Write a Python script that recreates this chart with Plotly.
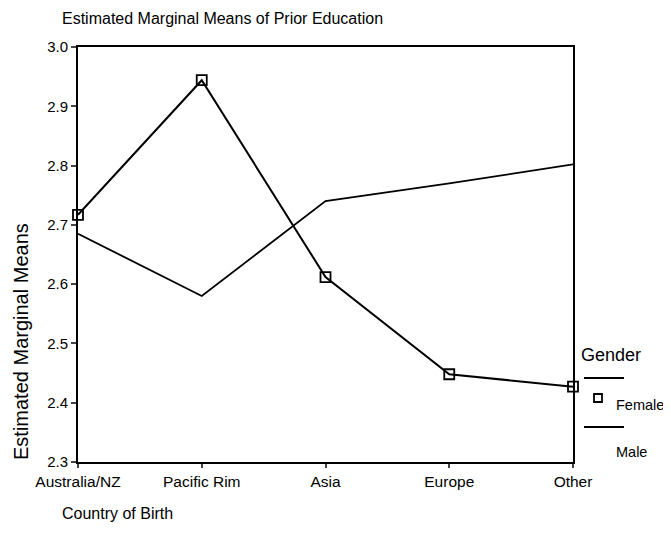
import plotly.graph_objects as go

categories = ["Australia/NZ", "Pacific Rim", "Asia", "Europe", "Other"]
female = [2.717, 2.944, 2.612, 2.448, 2.427]
male = [2.685, 2.580, 2.740, 2.770, 2.802]
y_ticks = [2.3, 2.4, 2.5, 2.6, 2.7, 2.8, 2.9, 3.0]

FONT = "Liberation Sans, Arial, sans-serif"
xs = list(range(len(categories)))

OFF = 8  # page body margin
W, H = 671 - 2 * OFF, 543 - 2 * OFF
# plot area in page pixels
X0, X1, Y0, Y1 = 78, 573, 47, 462

fig = go.Figure()
fig.add_trace(go.Scatter(x=xs, y=male, mode="lines", name="Male",
                         line=dict(color="black", width=1.8), showlegend=False))
fig.add_trace(go.Scatter(x=xs, y=female, mode="lines+markers", name="Female",
                         line=dict(color="black", width=2),
                         marker=dict(symbol="square-open", size=10, color="black",
                                     line=dict(width=1.8, color="black")),
                         cliponaxis=False, showlegend=False))

fig.update_layout(
    width=W, height=H,
    margin=dict(l=X0 - OFF, r=(OFF + W) - X1, t=Y0 - OFF, b=(OFF + H) - Y1),
    paper_bgcolor="white", plot_bgcolor="white",
    font=dict(family=FONT, color="black", size=12),
    xaxis=dict(range=[0, 4], tickmode="array", tickvals=xs, ticktext=categories,
               showgrid=False, zeroline=False, showline=True, linecolor="black",
               linewidth=2, mirror=True, ticks="outside", ticklen=4, tickwidth=2,
               tickfont=dict(size=15.5)),
    yaxis=dict(range=[2.3, 3.0], tickmode="array", tickvals=y_ticks,
               ticktext=[f"{v:.1f}" for v in y_ticks],
               showgrid=False, zeroline=False, showline=True, linecolor="black",
               linewidth=2, mirror=True, ticks="outside", ticklen=5, tickwidth=2,
               tickfont=dict(size=15)),
    showlegend=False,
)

pw = X1 - X0
ph = Y1 - Y0
def px(x):
    return (x - X0) / pw
def py(y):
    return 1 - (y - Y0) / ph

def note(text, x, y, size, anchor="left", angle=0):
    fig.add_annotation(text=text, xref="paper", yref="paper", x=px(x), y=py(y),
                       xanchor=anchor, yanchor="middle", showarrow=False, textangle=angle,
                       font=dict(size=size, family=FONT))

note("Estimated Marginal Means of Prior Education", 60, 18, 16)
note("Country of Birth", 60, 513, 16)
note("Estimated Marginal Means", 21, 342, 20, anchor="center", angle=-90)

# legend
note("Gender", 579, 355, 18)
note("Female", 614, 405, 14.5)
note("Male", 614, 452, 14.5)
fig.add_shape(type="line", xref="paper", yref="paper", x0=px(584), x1=px(624),
              y0=py(378), y1=py(378), line=dict(color="black", width=2))
fig.add_shape(type="line", xref="paper", yref="paper", x0=px(584), x1=px(624),
              y0=py(427), y1=py(427), line=dict(color="black", width=2))
fig.add_shape(type="rect", xref="paper", yref="paper", x0=px(594), x1=px(602),
              y0=py(394), y1=py(402), line=dict(color="black", width=1.8))

fig.write_html("out.html")
